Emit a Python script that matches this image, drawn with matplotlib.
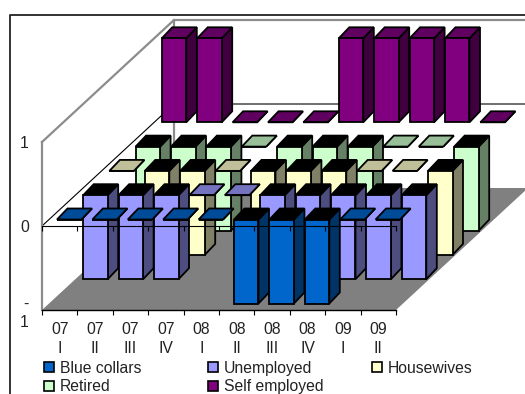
import matplotlib
matplotlib.use("Agg")
import matplotlib.pyplot as plt
from matplotlib.lines import Line2D
from matplotlib.patches import Patch

plt.rcParams['font.family'] = ['Liberation Sans', 'DejaVu Sans']

categories = ["07\nI", "07\nII", "07\nIII", "07\nIV", "08\nI", "08\nII", "08\nIII", "08\nIV", "09\nI", "09\nII"]
series_names = ["Blue collars", "Unemployed", "Housewives", "Retired", "Self employed"]
blue_collars = [0, 0, 0, 0, 0, -1, -1, -1, 0, 0]
unemployed = [-1, -1, -1, 0, 0, -1, -1, -1, -1, -1]
housewives = [0, -1, -1, 0, -1, -1, -1, 0, 0, -1]
retired = [-1, -1, -1, 0, -1, -1, -1, 0, 0, -1]
self_employed = [1, 1, 0, 0, 0, 1, 1, 1, 1, 0]
series_values = [blue_collars, unemployed, housewives, retired, self_employed]

front_cols = ["#0066CC", "#9999FF", "#FFFFCC", "#CCFFCC", "#800080"]
side_cols = ["#003366", "#4D4D80", "#808066", "#668066", "#400040"]
flat_cols = ["#004C99", "#7373BF", "#BFBF99", "#99BF99", "#600060"]

W, H = 525, 394
fig = plt.figure(figsize=(W / 100, H / 100), dpi=100)
# plot plane: x 42..396 px, y 142..310 px
ax = fig.add_axes([42 / W, 1 - 310 / H, (396 - 42) / W, (310 - 142) / H])
ax.set_xlim(0, len(categories))
ax.set_ylim(-1, 1)
ax.patch.set_visible(False)

PXX = (396 - 42) / 10
PXY = 84.0
STEP_X, STEP_Y = 26.2 / PXX, 24.3 / PXY      # shift per series
OFF_X, OFF_Y = 15.0 / PXX, 6.5 / PXY         # first series inset
BAR_W = 24.5 / PXX
DEP_X, DEP_Y = 10.5 / PXX, 11.0 / PXY        # bar depth
WALL_X, WALL_Y = 132 / PXX, 122 / PXY        # floor depth
LW = 1.3

# walls and floor
ax.fill([0, 10, 10 + WALL_X, WALL_X], [-1, -1, -1 + WALL_Y, -1 + WALL_Y],
        color="#808080", lw=0, zorder=1, clip_on=False)
ax.plot([0, WALL_X, 20], [1, 1 + WALL_Y, 1 + WALL_Y], color="#8c8c8c", lw=1.6, zorder=2, clip_on=False)
ax.plot([WALL_X, WALL_X], [1 + WALL_Y, -1 + WALL_Y], color="#8c8c8c", lw=1.6, zorder=2, clip_on=False)
ax.plot([0, WALL_X, 20], [0, WALL_Y, WALL_Y], color="black", lw=0.8, zorder=2, clip_on=False)

z = 3
for s in range(len(series_names) - 1, -1, -1):
    for i, v in enumerate(series_values[s]):
        x0 = i + OFF_X + s * STEP_X
        y0 = OFF_Y + s * STEP_Y
        yt = y0 + max(v, 0)
        yb = y0 + min(v, 0)
        ax.bar(x0, yt - yb, BAR_W, bottom=yb, align="edge", color=front_cols[s],
               edgecolor="black", lw=LW, zorder=z + 1, clip_on=False)
        ax.fill([x0 + BAR_W, x0 + BAR_W + DEP_X, x0 + BAR_W + DEP_X, x0 + BAR_W],
                [yb, yb + DEP_Y, yt + DEP_Y, yt],
                facecolor=side_cols[s], edgecolor="black", lw=LW, zorder=z, clip_on=False)
        top_col = "black" if v < 0 else flat_cols[s]
        ax.fill([x0, x0 + BAR_W, x0 + BAR_W + DEP_X, x0 + DEP_X],
                [yt, yt, yt + DEP_Y, yt + DEP_Y],
                facecolor=top_col, edgecolor="black", lw=LW, zorder=z, clip_on=False)
        z += 2

# front zero line with its ticks
ax.plot([0, 10], [0, 0], color="black", lw=0.8, zorder=z, clip_on=False)
ax.vlines(range(11), -0.06, 0, color="black", lw=0.8, zorder=z, clip_on=False)

# axes
for side in ("top", "right"):
    ax.spines[side].set_visible(False)
ax.spines["left"].set_color("#8c8c8c")
ax.spines["left"].set_linewidth(1.6)
ax.spines["bottom"].set_linewidth(1.0)
ax.spines["bottom"].set_zorder(z)
ax.set_xticks(range(11))
ax.set_xticklabels([])
ax.set_xticks([i + 0.5 for i in range(10)], minor=True)
ax.set_xticklabels(categories, minor=True, fontsize=11.3, linespacing=1.3, color="#222222")
ax.tick_params(axis="x", which="major", length=3.6, width=0.8, direction="out")
ax.tick_params(axis="x", which="minor", length=0, pad=9)
ax.set_yticks([-1, 0, 1])
ax.set_yticklabels(["-\n1", "0", "1"], fontsize=11.3, linespacing=1.3, color="#222222")
ax.tick_params(axis="y", length=0, pad=9.5)

# legend, one block per column
handles = {n: Patch(facecolor=c, edgecolor="black", lw=1.2) for n, c in zip(series_names, front_cols)}
columns = [(["Blue collars", "Retired"], 41), (["Unemployed", "Self employed"], 205), (["Housewives"], 369)]
for names, px in columns:
    fig.legend([handles[n] for n in names], names, loc="upper left",
               bbox_to_anchor=(px / W, 1 - 357.5 / H), frameon=False, fontsize=11.3,
               handlelength=0.6, handleheight=0.6, handletextpad=0.42,
               labelspacing=0.22, borderpad=0, borderaxespad=0.2, labelcolor="#222222")

# chart frame
fig.add_artist(Line2D([10 / W, 10 / W, 1], [0, 1 - 15 / H, 1 - 15 / H], color="#222222", lw=1.3))

fig.savefig("out.png", dpi=100)
